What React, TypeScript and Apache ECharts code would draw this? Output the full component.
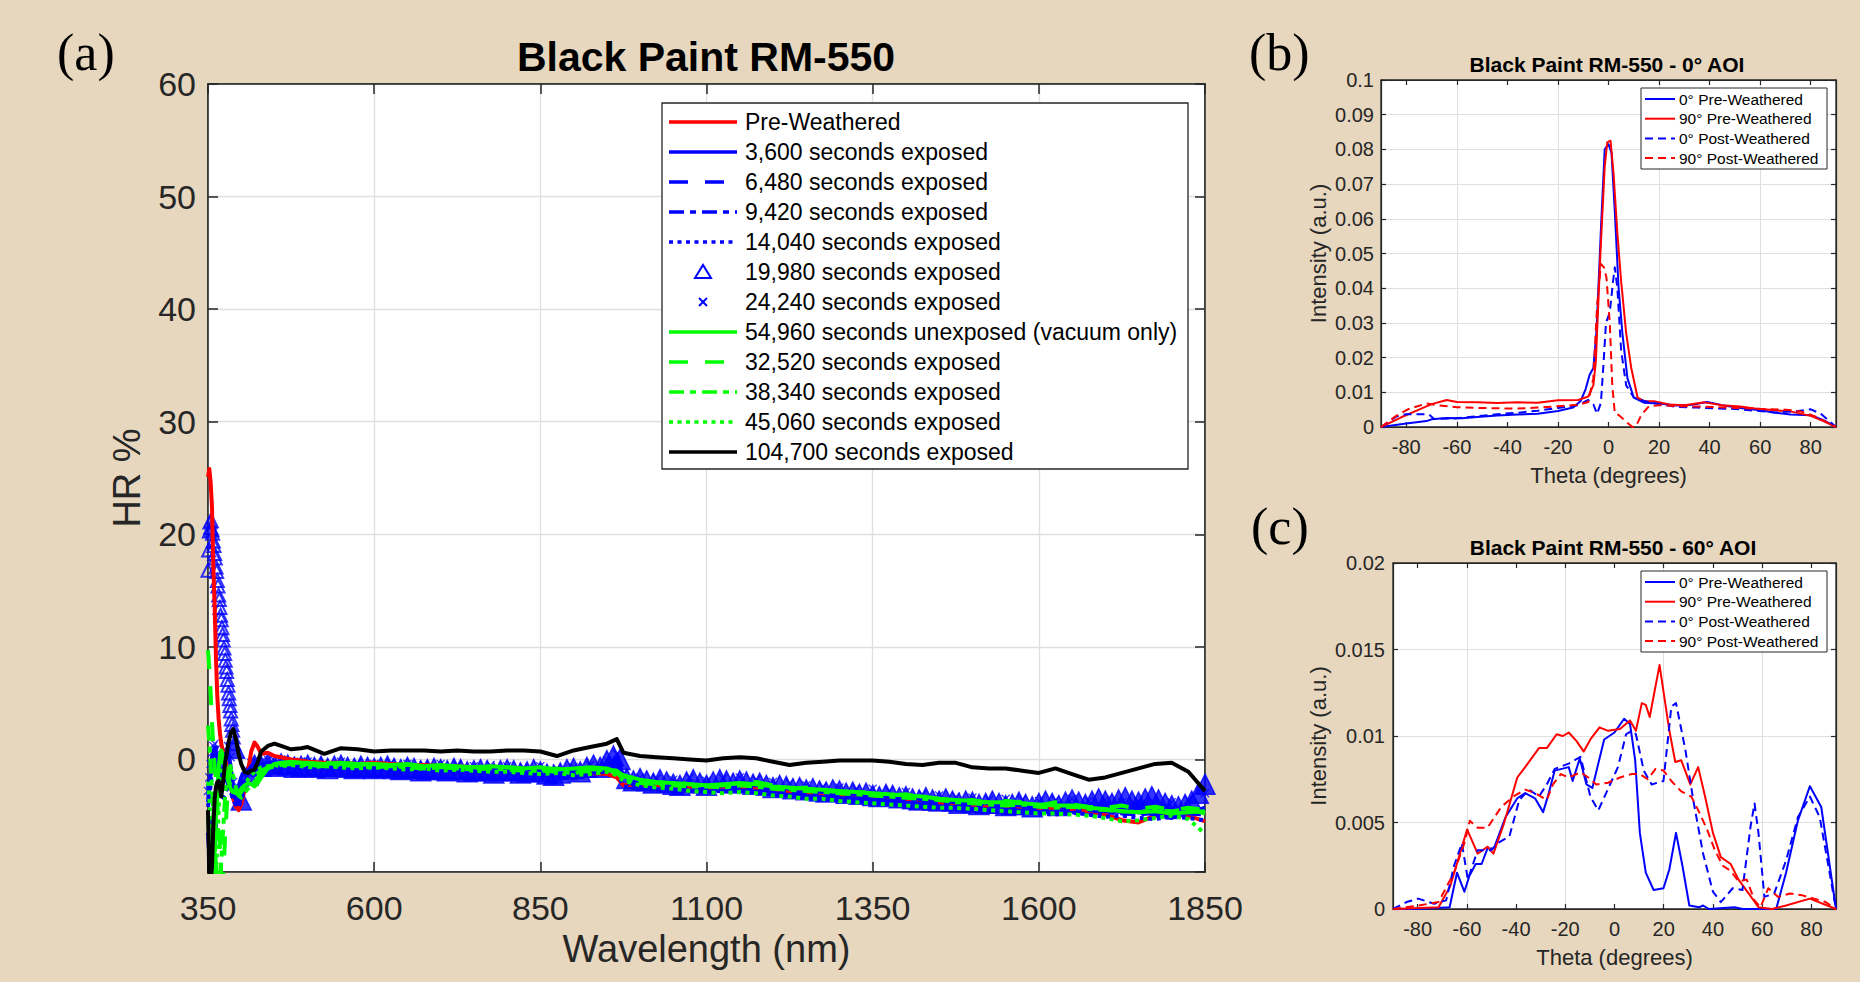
import { useEffect, useRef } from "react";
import * as echarts from "echarts";

// ---------- (a) hemispherical reflectance spectra ----------
// Wavelength sampling (nm) shared by the line spectra
const WAVELENGTH = [
  350, 352, 354, 356, 358, 360, 362, 364, 366, 368,
  370, 373, 376, 380, 384, 388, 392, 396, 400, 405,
  410, 415, 420, 425, 430, 440, 450, 460, 475, 490,
  500, 525, 550, 575, 600, 625, 650, 675, 700, 725,
  750, 775, 800, 825, 850, 875, 900, 925, 950, 965,
  975, 1000, 1025, 1050, 1075, 1100, 1125, 1150, 1175, 1200,
  1225, 1250, 1275, 1300, 1325, 1350, 1375, 1400, 1425, 1450,
  1475, 1500, 1525, 1550, 1575, 1600, 1625, 1650, 1675, 1700,
  1725, 1750, 1775, 1800, 1825, 1850,
];

const HR_PRE_WEATHERED = [
  25.1, 25.8, 24.6, 22.4, 17.1, 13.6, 9.0, 5.6, 3.6, 2.3,
  1.4, 0.6, -0.1, -1.1, -2.3, -3.5, -4.2, -4.5, -4.0, -2.7,
  -1.1, 0.7, 1.5, 1.1, 0.5, 0.6, 0.3, 0.2, 0.0, -0.1,
  -0.2, -0.3, -0.3, -0.4, -0.3, -0.4, -0.5, -0.5, -0.6, -0.6,
  -0.7, -0.7, -0.8, -0.9, -0.9, -1.0, -1.1, -1.2, -1.3, -1.6,
  -2.3, -2.2, -2.3, -2.3, -2.4, -2.5, -2.4, -2.4, -2.5, -2.6,
  -2.8, -2.9, -3.0, -3.1, -3.1, -3.2, -3.3, -3.5, -3.6, -3.8,
  -3.9, -4.0, -4.1, -4.1, -4.2, -4.3, -4.3, -4.4, -4.6, -4.9,
  -5.4, -5.6, -5.0, -4.8, -5.0, -5.5,
];

const HR_3600 = [
  -3.8, -2.6, -1.2, 0.2, 0.8, 1.0, 0.6, -0.4, -1.5, -2.4,
  -2.0, -0.8, 0.4, 0.9, -0.6, -2.6, -3.6, -3.9, -3.4, -2.2,
  -1.2, -0.6, -0.5, -0.8, -0.7, -0.4, -0.3, -0.4, -0.3, -0.5,
  -0.5, -0.6, -0.4, -0.5, -0.6, -0.6, -0.7, -0.6, -0.7, -0.8,
  -0.8, -0.7, -0.9, -0.9, -1.0, -1.2, -1.1, -0.8, -0.6, 0.2,
  -1.5, -1.9, -2.1, -2.0, -2.2, -2.4, -2.3, -2.1, -2.2, -2.4,
  -2.6, -2.6, -2.8, -2.9, -3.0, -3.0, -3.2, -3.4, -3.4, -3.6,
  -3.8, -3.9, -3.9, -4.0, -4.1, -4.0, -3.9, -4.1, -4.3, -4.2,
  -4.5, -4.7, -4.9, -5.2, -4.7, -4.3,
];

const HR_6480 = [
  -2.0, -4.5, -7.5, -10.5, -11, -9, -5.5, -2.5, -0.8, 0.3,
  0.6, -0.5, -1.5, -2.2, -3.0, -3.4, -3.2, -2.4, -1.6, -0.9,
  -0.3, -0.2, -0.4, -0.6, -0.5, -0.3, -0.4, -0.2, -0.4, -0.3,
  -0.4, -0.5, -0.5, -0.4, -0.5, -0.7, -0.6, -0.7, -0.8, -0.7,
  -0.9, -0.8, -0.8, -1.0, -0.9, -1.1, -1.0, -0.7, -0.4, -0.2,
  -1.8, -2.0, -2.2, -2.3, -2.1, -2.3, -2.2, -2.0, -2.3, -2.5,
  -2.5, -2.7, -2.9, -2.8, -3.1, -3.2, -3.3, -3.3, -3.6, -3.7,
  -3.6, -3.9, -4.0, -4.0, -3.9, -4.2, -4.3, -4.2, -4.4, -4.6,
  -4.4, -4.6, -4.8, -4.5, -4.7, -4.3,
];

const HR_9420 = [
  -6.5, -8.5, -10.5, -11, -10.5, -8, -5, -2.8, -1.2, -0.2,
  0.4, 0.2, -0.6, -1.6, -2.6, -3.6, -4.0, -3.7, -2.8, -1.7,
  -1.0, -0.7, -0.6, -0.7, -0.8, -0.6, -0.5, -0.6, -0.5, -0.6,
  -0.7, -0.6, -0.7, -0.8, -0.7, -0.8, -0.9, -0.8, -0.9, -1.0,
  -0.9, -1.1, -1.0, -1.1, -1.2, -1.3, -1.2, -1.0, -0.9, -0.8,
  -2.0, -2.3, -2.4, -2.3, -2.5, -2.6, -2.5, -2.4, -2.6, -2.7,
  -2.9, -3.0, -3.0, -3.2, -3.3, -3.3, -3.5, -3.6, -3.7, -3.9,
  -4.0, -4.0, -4.2, -4.3, -4.2, -4.4, -4.5, -4.6, -4.5, -4.7,
  -4.8, -4.9, -4.7, -4.6, -4.8, -4.9,
];

const HR_14040 = [
  -4.2, -3.4, -2.2, -1.0, 0.2, 1.0, 1.1, 0.4, -0.6, -1.8,
  -2.8, -3.4, -3.0, -2.2, -2.8, -3.6, -4.1, -4.2, -3.7, -2.5,
  -1.4, -0.9, -0.8, -1.0, -1.1, -0.8, -0.7, -0.8, -0.7, -0.8,
  -0.9, -0.8, -0.9, -1.0, -0.9, -1.0, -1.1, -1.0, -1.1, -1.2,
  -1.1, -1.2, -1.3, -1.2, -1.4, -1.5, -1.4, -1.2, -1.1, -1.0,
  -2.4, -2.6, -2.7, -2.8, -2.7, -2.9, -2.8, -2.7, -2.9, -3.1,
  -3.2, -3.3, -3.4, -3.5, -3.6, -3.7, -3.8, -3.9, -4.1, -4.3,
  -4.2, -4.4, -4.6, -4.5, -4.6, -4.8, -4.9, -4.7, -4.9, -5.1,
  -5.0, -5.2, -5.3, -5.1, -5.2, -5.4,
];

const HR_24240 = [
  -2.8, -1.6, -0.4, 0.6, 1.2, 1.4, 0.9, 0.0, -1.0, -1.8,
  -1.4, -0.2, 0.8, 1.2, 0.2, -2.0, -3.3, -3.8, -3.3, -2.1,
  -1.0, -0.3, -0.1, -0.3, -0.2, 0.0, -0.1, 0.0, -0.1, -0.2,
  -0.2, -0.3, -0.2, -0.3, -0.4, -0.3, -0.4, -0.5, -0.4, -0.5,
  -0.6, -0.5, -0.6, -0.7, -0.6, -0.8, -0.7, -0.5, -0.1, 0.5,
  -1.3, -1.6, -1.7, -1.8, -1.6, -1.9, -1.7, -1.6, -1.8, -2.0,
  -2.1, -2.3, -2.4, -2.5, -2.6, -2.6, -2.8, -2.9, -3.1, -3.2,
  -3.3, -3.4, -3.6, -3.5, -3.6, -3.7, -3.6, -3.5, -3.7, -3.6,
  -3.8, -3.7, -3.9, -3.8, -3.6, -3.0,
];

const HR_54960_VACUUM = [
  -5.0, -7.0, -9.5, -11, -10.5, -8.0, -5.0, -2.5, -0.8, 0.4,
  0.8, 0.2, -0.8, -1.8, -2.6, -2.9, -3.0, -2.9, -2.6, -2.3,
  -2.1, -2.2, -2.4, -2.1, -1.6, -0.8, -0.4, -0.3, -0.2, -0.3,
  -0.3, -0.4, -0.3, -0.4, -0.4, -0.5, -0.4, -0.6, -0.5, -0.6,
  -0.7, -0.6, -0.7, -0.8, -0.7, -0.9, -0.8, -0.7, -0.8, -1.1,
  -1.4, -1.8, -2.0, -2.1, -2.2, -2.3, -2.2, -2.1, -2.2, -2.4,
  -2.5, -2.6, -2.7, -2.8, -2.9, -3.0, -3.1, -3.2, -3.3, -3.5,
  -3.6, -3.7, -3.8, -3.8, -3.9, -4.0, -4.1, -4.1, -4.3, -4.4,
  -4.6, -4.7, -4.6, -4.8, -4.7, -4.6,
];

const HR_32520 = [
  9.7, 8.0, 5.8, 3.3, 1.2, -0.6, -1.8, -3.8, -6.0, -8.0,
  -10.5, -10.5, -6.5, -2.5, -0.8, -1.8, -2.8, -3.2, -2.9, -2.4,
  -2.0, -1.7, -1.5, -1.2, -1.0, -0.7, -0.5, -0.4, -0.3, -0.3,
  -0.4, -0.3, -0.4, -0.5, -0.4, -0.6, -0.5, -0.5, -0.7, -0.6,
  -0.7, -0.8, -0.7, -0.8, -0.9, -0.8, -1.0, -0.9, -0.8, -1.0,
  -1.5, -1.9, -2.1, -2.0, -2.2, -2.4, -2.3, -2.1, -2.0, -2.3,
  -2.6, -2.5, -2.8, -2.9, -2.8, -3.1, -3.2, -3.1, -3.4, -3.5,
  -3.7, -3.6, -3.9, -3.7, -3.8, -4.1, -3.8, -4.0, -4.2, -4.3,
  -4.1, -4.4, -4.2, -4.5, -4.3, -4.5,
];

const HR_38340 = [
  3.0, 1.5, -0.5, -2.5, -4.8, -7.2, -9.6, -11, -11, -10.5,
  -9.0, -6.0, -3.0, -1.2, -0.6, -1.5, -2.5, -3.2, -3.4, -3.0,
  -2.6, -2.3, -2.0, -1.6, -1.2, -0.8, -0.6, -0.5, -0.4, -0.5,
  -0.5, -0.6, -0.5, -0.6, -0.7, -0.6, -0.7, -0.8, -0.7, -0.8,
  -0.9, -0.8, -0.9, -1.0, -1.0, -1.1, -1.2, -1.0, -0.9, -1.2,
  -1.7, -2.1, -2.2, -2.3, -2.4, -2.4, -2.5, -2.3, -2.4, -2.6,
  -2.7, -2.8, -2.9, -3.0, -3.1, -3.2, -3.3, -3.4, -3.5, -3.6,
  -3.8, -3.9, -4.0, -4.1, -4.0, -4.2, -4.3, -4.2, -4.4, -4.5,
  -4.6, -4.7, -4.5, -4.6, -4.4, -4.8,
];

const HR_45060 = [
  -2.0, -3.5, -5.5, -8.0, -10.5, -11, -10, -7.5, -4.5, -2.0,
  -0.5, 0.3, -0.5, -1.5, -2.4, -3.0, -3.2, -3.0, -2.7, -2.3,
  -1.8, -1.4, -1.1, -0.9, -0.7, -0.6, -0.5, -0.6, -0.5, -0.6,
  -0.7, -0.6, -0.7, -0.8, -0.7, -0.8, -0.9, -0.8, -1.0, -0.9,
  -1.0, -1.1, -1.1, -1.2, -1.3, -1.2, -1.4, -1.3, -1.1, -1.4,
  -1.9, -2.3, -2.5, -2.6, -2.8, -2.9, -3.0, -2.9, -3.0, -3.2,
  -3.3, -3.5, -3.5, -3.7, -3.8, -3.9, -4.0, -4.1, -4.2, -4.3,
  -4.3, -4.4, -4.5, -4.6, -4.7, -4.8, -4.8, -4.9, -5.0, -5.2,
  -5.5, -5.4, -5.2, -5.0, -5.3, -6.6,
];

const HR_104700 = [
  -4.5, -10.5, -11, -9.5, -6.0, -3.5, -2.4, -2.0, -1.9, -2.6,
  -3.3, -1.8, -0.2, 1.2, 2.3, 2.7, 1.8, 0.5, -0.4, -1.1,
  -1.2, -1.0, -0.9, -0.2, 0.7, 1.2, 1.4, 1.2, 0.9, 1.0,
  1.1, 0.5, 1.0, 0.9, 0.7, 0.8, 0.8, 0.8, 0.7, 0.8,
  0.7, 0.7, 0.8, 0.8, 0.7, 0.3, 0.8, 1.1, 1.4, 1.8,
  0.6, 0.3, 0.2, 0.1, 0.0, -0.1, 0.1, 0.2, 0.1, -0.2,
  -0.5, -0.3, -0.2, -0.1, -0.1, -0.1, -0.2, -0.4, -0.5, -0.3,
  -0.3, -0.7, -0.8, -0.8, -1.0, -1.2, -0.8, -1.3, -1.8, -1.6,
  -1.2, -0.8, -0.4, -0.3, -1.1, -2.8,
];

// The 19,980 s run is sampled more finely (1 nm near the UV edge, 10 nm beyond)
const WAVELENGTH_19980 = [
  350, 351, 352, 353, 354, 355, 356, 357, 358, 359,
  360, 361, 362, 363, 364, 365, 366, 367, 368, 369,
  370, 371, 372, 373, 374, 375, 376, 377, 378, 379,
  380, 381, 382, 383, 384, 385, 386, 387, 388, 389,
  390, 400, 410, 420, 430, 440, 450, 460, 470, 480,
  490, 500, 510, 520, 530, 540, 550, 560, 570, 580,
  590, 600, 610, 620, 630, 640, 650, 660, 670, 680,
  690, 700, 710, 720, 730, 740, 750, 760, 770, 780,
  790, 800, 810, 820, 830, 840, 850, 860, 870, 880,
  890, 900, 910, 920, 930, 940, 950, 960, 970, 980,
  990, 1000, 1010, 1020, 1030, 1040, 1050, 1060, 1070, 1080,
  1090, 1100, 1110, 1120, 1130, 1140, 1150, 1160, 1170, 1180,
  1190, 1200, 1210, 1220, 1230, 1240, 1250, 1260, 1270, 1280,
  1290, 1300, 1310, 1320, 1330, 1340, 1350, 1360, 1370, 1380,
  1390, 1400, 1410, 1420, 1430, 1440, 1450, 1460, 1470, 1480,
  1490, 1500, 1510, 1520, 1530, 1540, 1550, 1560, 1570, 1580,
  1590, 1600, 1610, 1620, 1630, 1640, 1650, 1660, 1670, 1680,
  1690, 1700, 1710, 1720, 1730, 1740, 1750, 1760, 1770, 1780,
  1790, 1800, 1810, 1820, 1830, 1840, 1850,
];

const HR_19980 = [
  16.8, 18.6, 20.3, 21.1, 20.6, 21.2, 20.4, 20.1, 19.4, 19.0,
  18.3, 17.9, 17.1, 16.7, 15.9, 15.4, 14.6, 14.2, 13.5, 12.8,
  12.4, 11.7, 11.1, 10.6, 9.9, 9.4, 8.8, 8.2, 7.8, 7.1,
  6.6, 5.9, 5.4, 4.8, 4.3, 3.6, 3.1, 2.6, 2.0, 1.4,
  1.0, -3.6, -1.4, -0.5, -0.6, -0.4, -0.6, -0.4, -0.5, -0.7,
  -0.6, -0.5, -0.7, -0.6, -0.8, -0.6, -0.5, -0.7, -0.8, -0.6,
  -0.7, -0.8, -0.7, -0.6, -0.8, -0.9, -0.7, -0.8, -1.0, -0.9,
  -0.8, -0.9, -1.0, -0.8, -0.9, -1.1, -1.0, -0.9, -1.0, -1.2,
  -1.0, -0.9, -1.0, -1.2, -1.1, -0.9, -1.1, -1.3, -1.4, -1.2,
  -0.9, -0.8, -1.1, -0.7, -0.5, -0.7, -0.1, 0.3, 0.0, -1.7,
  -1.9, -1.7, -1.9, -2.1, -1.8, -2.0, -2.2, -2.3, -2.0, -1.8,
  -2.1, -2.3, -2.0, -1.8, -1.9, -2.1, -1.9, -2.0, -2.2, -2.1,
  -2.3, -2.5, -2.3, -2.4, -2.6, -2.5, -2.7, -2.6, -2.8, -2.9,
  -2.7, -2.8, -3.0, -2.9, -3.1, -3.0, -3.2, -3.3, -3.1, -3.2,
  -3.4, -3.3, -3.5, -3.6, -3.4, -3.6, -3.7, -3.5, -3.7, -3.9,
  -3.7, -3.8, -4.0, -3.9, -3.7, -3.9, -4.1, -4.0, -3.8, -4.0,
  -4.2, -3.9, -3.7, -3.9, -4.1, -3.8, -3.6, -3.8, -4.0, -3.7,
  -3.5, -3.7, -3.9, -3.6, -3.4, -3.7, -3.8, -3.5, -3.3, -3.6,
  -3.9, -4.1, -4.2, -4.0, -3.7, -3.0, -2.2,
];

// ---------- (b) BRDF scans, 0° angle of incidence ----------
const THETA_B_0_PRE = [-90, -80, -72, -70, -64, -58, -52, -44, -36, -28, -20, -14, -11, -9, -7.5, -6, -4.7, -3, -1.5, 0, 1.2, 2.5, 4, 5.5, 7.5, 10, 14, 20, 27, 33, 39, 45, 52, 60, 66, 72, 80, 85, 90];
const INT_B_0_PRE = [0, 0.001, 0.0017, 0.0022, 0.0026, 0.0025, 0.0029, 0.0033, 0.0036, 0.0038, 0.0046, 0.0056, 0.0075, 0.011, 0.015, 0.017, 0.028, 0.057, 0.08, 0.0815, 0.079, 0.062, 0.04, 0.027, 0.014, 0.0085, 0.007, 0.0068, 0.0062, 0.0064, 0.0072, 0.0063, 0.0055, 0.0048, 0.0041, 0.0036, 0.0034, 0.002, 0];

const THETA_B_90_PRE = [-90, -82, -75, -70, -64, -60, -52, -44, -36, -28, -20, -12, -8, -6, -5, -3.2, -1.5, -0.5, 0.8, 2, 3.5, 5, 7, 9, 11.5, 14, 18, 24, 30, 38, 45, 52, 58, 66, 72, 80, 85, 90];
const INT_B_90_PRE = [0, 0.0028, 0.005, 0.0066, 0.0078, 0.0072, 0.0071, 0.0069, 0.0071, 0.007, 0.0077, 0.0078, 0.0088, 0.012, 0.019, 0.05, 0.075, 0.082, 0.0825, 0.073, 0.056, 0.042, 0.027, 0.017, 0.0085, 0.0075, 0.0074, 0.0065, 0.0063, 0.0071, 0.0063, 0.0059, 0.0053, 0.0048, 0.0045, 0.0032, 0.0017, 0];

const THETA_B_0_POST = [-90, -84, -80, -74, -71, -69, -60, -52, -44, -36, -28, -20, -12, -8, -6, -4.5, -3, -2, -1, 0.5, 1.8, 2.5, 3.5, 5, 7, 10, 14, 20, 27, 35, 42, 50, 58, 66, 74, 80, 84, 90];
const INT_B_0_POST = [0, 0.003, 0.0037, 0.0037, 0.0036, 0.0023, 0.0025, 0.0031, 0.0037, 0.0041, 0.0047, 0.0055, 0.0063, 0.0078, 0.0065, 0.0038, 0.007, 0.018, 0.03, 0.033, 0.042, 0.046, 0.04, 0.022, 0.012, 0.0085, 0.0075, 0.0066, 0.0058, 0.0056, 0.0054, 0.0052, 0.0047, 0.0042, 0.0045, 0.0051, 0.0038, 0];

const THETA_B_90_POST = [-90, -84, -79, -72, -68, -60, -52, -44, -36, -28, -20, -12, -8, -6, -4.5, -3, -1.8, -0.8, 0.5, 1.5, 2.5, 4.5, 7, 9.5, 11, 13, 16, 20, 28, 36, 44, 52, 60, 70, 76, 82, 90];
const INT_B_90_POST = [0, 0.0032, 0.0052, 0.0068, 0.0063, 0.0057, 0.0055, 0.0054, 0.0053, 0.0056, 0.006, 0.0064, 0.0072, 0.014, 0.035, 0.047, 0.046, 0.043, 0.03, 0.012, 0.004, 0.0032, 0.0015, 0, 0.0004, 0.0035, 0.006, 0.0063, 0.006, 0.0059, 0.0057, 0.0055, 0.0052, 0.005, 0.0045, 0.003, 0];

// ---------- (c) BRDF scans, 60° angle of incidence ----------
const THETA_C_0_PRE = [-90, -80, -67, -64, -61, -59, -56.4, -54, -51.6, -49, -44.3, -39.5, -36.3, -32.3, -29, -26.7, -24.3, -18.6, -17, -14.1, -11.4, -9, -4.2, 0, 3.9, 6.3, 8.4, 10.3, 12.7, 15.9, 19.9, 22.3, 25, 27.6, 30.4, 34.4, 36, 38.4, 48.8, 52, 65.7, 69.7, 74.5, 79.4, 84, 90];
const INT_C_0_PRE = [0, 0, 0.0001, 0.0021, 0.001, 0.0019, 0.0026, 0.0026, 0.0035, 0.0035, 0.0053, 0.0064, 0.0067, 0.0064, 0.0056, 0.0067, 0.008, 0.0082, 0.0074, 0.0087, 0.0072, 0.007, 0.0098, 0.0102, 0.011, 0.0107, 0.0086, 0.0044, 0.0021, 0.0011, 0.0012, 0.0023, 0.0044, 0.0025, 0.0002, 0.0001, 0.0002, 0, 0.0001, 0, 0, 0.0021, 0.0051, 0.0071, 0.0059, 0];

const THETA_C_90_PRE = [-90, -71.5, -66.8, -62.8, -59.9, -55.6, -51.6, -49.2, -45, -39.5, -36.3, -30.7, -27.5, -23.5, -21, -18.6, -15.4, -12.5, -9.8, -6.1, -2.6, 2.2, 6.3, 8.7, 11.1, 12.7, 14.3, 18.3, 22.3, 24.7, 27.1, 30.8, 34, 36.8, 40, 43.2, 47.2, 50.4, 54.5, 58.5, 64, 69.7, 79.4, 90];
const INT_C_90_PRE = [0, 0.0001, 0.0013, 0.0032, 0.0046, 0.0032, 0.0036, 0.0032, 0.0049, 0.0076, 0.0082, 0.0093, 0.0093, 0.0101, 0.01, 0.0102, 0.0097, 0.0091, 0.0098, 0.0105, 0.0103, 0.0104, 0.0109, 0.0103, 0.0119, 0.0118, 0.0111, 0.0141, 0.0103, 0.0085, 0.0086, 0.0072, 0.0082, 0.0065, 0.0044, 0.003, 0.0026, 0.0017, 0.0009, 0.0001, 0, 0.0002, 0.0006, 0];

const THETA_C_0_POST = [-90, -84.5, -79.7, -73.3, -68.4, -65.2, -62, -59.6, -55.6, -50, -47.6, -42.7, -38.7, -34.7, -30.7, -27.5, -24.3, -18.6, -13.8, -9.8, -6.6, -3.4, 1.4, 4.7, 7, 8.7, 11.9, 15.1, 19.9, 23.1, 25, 28.8, 32, 36, 40, 43.2, 48, 52, 55.3, 56.9, 58.5, 60.9, 64.9, 69.7, 74.5, 79.4, 83.4, 90];
const INT_C_0_POST = [0, 0.0004, 0.0006, 0.0003, 0.0005, 0.0025, 0.0038, 0.0017, 0.0034, 0.0034, 0.0038, 0.0042, 0.0063, 0.0069, 0.0065, 0.0072, 0.0081, 0.0084, 0.0088, 0.0065, 0.0057, 0.0067, 0.0082, 0.0101, 0.0103, 0.0101, 0.008, 0.0072, 0.0074, 0.0117, 0.0119, 0.0092, 0.0063, 0.0032, 0.001, 0.0004, 0.0012, 0.0011, 0.0048, 0.0061, 0.0044, 0.0007, 0.0009, 0.0028, 0.0053, 0.0065, 0.0053, 0];

const THETA_C_90_POST = [-90, -79.7, -71.5, -65.2, -61, -58.8, -55.6, -51.6, -46, -41.1, -36.3, -32.3, -27.5, -25, -21.8, -18.6, -13.8, -10.6, -7.4, -2.6, 2.2, 7, 10.3, 13.5, 16.7, 19.9, 23.1, 27.1, 31.2, 34.4, 37.6, 40.8, 44, 47.2, 50.4, 53.7, 56.9, 59.3, 62.5, 66.5, 71.3, 76.1, 81, 85.8, 90];
const INT_C_90_POST = [0, 0.0002, 0.0004, 0.0021, 0.0038, 0.0051, 0.0047, 0.0047, 0.0059, 0.0065, 0.0069, 0.0067, 0.0063, 0.0072, 0.0078, 0.0076, 0.0079, 0.0076, 0.0072, 0.0073, 0.0076, 0.0078, 0.0078, 0.0075, 0.0081, 0.008, 0.0074, 0.0068, 0.0065, 0.0056, 0.0046, 0.0034, 0.0025, 0.0022, 0.0016, 0.0017, 0.0005, 0.0001, 0.0012, 0.0007, 0.0009, 0.0008, 0.0006, 0.0004, 0];

// Axis tick values
const WAVELENGTH_TICKS = { min: 350, max: 1850, step: 250 };
const HR_TICKS = { min: -10, max: 60, step: 10 };
const THETA_LABELS = [-80, -60, -40, -20, 0, 20, 40, 60, 80];

// ---------- styling ----------
const FONT = '"Liberation Sans", Arial, Helvetica, sans-serif';
const SERIF = '"Liberation Serif", "Times New Roman", Times, serif';
const INK = "#262626";
const GRIDLINE = "#dfdfdf";
const PAGE = "#e6d7be";
const BLUE = "#0000ff";
const RED = "#ff0000";
const GREEN = "#00ff00";
const BLACK = "#000000";

const DASH = [19, 17];
const DASH_DOT = [15, 6, 6, 6];
const DOT = [4, 4.5];
const SMALL_DASH = [8, 5];

type Spectrum = {
  name: string;
  wl: number[];
  hr: number[];
  color: string;
  dash?: number[];
  marker?: "triangle" | "cross";
};

const SPECTRA: Spectrum[] = [
  { name: "Pre-Weathered", wl: WAVELENGTH, hr: HR_PRE_WEATHERED, color: RED },
  { name: "3,600 seconds exposed", wl: WAVELENGTH, hr: HR_3600, color: BLUE },
  { name: "6,480 seconds exposed", wl: WAVELENGTH, hr: HR_6480, color: BLUE, dash: DASH },
  { name: "9,420 seconds exposed", wl: WAVELENGTH, hr: HR_9420, color: BLUE, dash: DASH_DOT },
  { name: "14,040 seconds exposed", wl: WAVELENGTH, hr: HR_14040, color: BLUE, dash: DOT },
  { name: "19,980 seconds exposed", wl: WAVELENGTH_19980, hr: HR_19980, color: BLUE, marker: "triangle" },
  { name: "24,240 seconds exposed", wl: WAVELENGTH, hr: HR_24240, color: BLUE, marker: "cross" },
  { name: "54,960 seconds unexposed (vacuum only)", wl: WAVELENGTH, hr: HR_54960_VACUUM, color: GREEN },
  { name: "32,520 seconds exposed", wl: WAVELENGTH, hr: HR_32520, color: GREEN, dash: DASH },
  { name: "38,340 seconds exposed", wl: WAVELENGTH, hr: HR_38340, color: GREEN, dash: DASH_DOT },
  { name: "45,060 seconds exposed", wl: WAVELENGTH, hr: HR_45060, color: GREEN, dash: DOT },
  { name: "104,700 seconds exposed", wl: WAVELENGTH, hr: HR_104700, color: BLACK },
];

type Profile = { name: string; theta: number[]; intensity: number[]; color: string; dashed: boolean };

const PROFILES_0_AOI: Profile[] = [
  { name: "0° Pre-Weathered", theta: THETA_B_0_PRE, intensity: INT_B_0_PRE, color: BLUE, dashed: false },
  { name: "90° Pre-Weathered", theta: THETA_B_90_PRE, intensity: INT_B_90_PRE, color: RED, dashed: false },
  { name: "0° Post-Weathered", theta: THETA_B_0_POST, intensity: INT_B_0_POST, color: BLUE, dashed: true },
  { name: "90° Post-Weathered", theta: THETA_B_90_POST, intensity: INT_B_90_POST, color: RED, dashed: true },
];

const PROFILES_60_AOI: Profile[] = [
  { name: "0° Pre-Weathered", theta: THETA_C_0_PRE, intensity: INT_C_0_PRE, color: BLUE, dashed: false },
  { name: "90° Pre-Weathered", theta: THETA_C_90_PRE, intensity: INT_C_90_PRE, color: RED, dashed: false },
  { name: "0° Post-Weathered", theta: THETA_C_0_POST, intensity: INT_C_0_POST, color: BLUE, dashed: true },
  { name: "90° Post-Weathered", theta: THETA_C_90_POST, intensity: INT_C_90_POST, color: RED, dashed: true },
];

const CROSS_PATH = "path://M0,1L1,0L5,4L9,0L10,1L6,5L10,9L9,10L5,6L1,10L0,9L4,5Z";

const pairs = (xs: number[], ys: number[]) => xs.map((x, i) => [x, ys[i]]);

// ---------- layout of the three plot boxes ----------
const BOX_A = { left: 208, top: 84, width: 997, height: 788 };
const BOX_B = { left: 1381, top: 80, width: 455, height: 347 };
const BOX_C = { left: 1393, top: 563, width: 443, height: 346 };

function text(x: number, y: number, str: string, size: number, opts: any = {}) {
  return {
    type: "text",
    x,
    y,
    z: 120,
    silent: true,
    style: {
      text: str,
      fontSize: size,
      fontFamily: opts.family ?? FONT,
      fontWeight: opts.weight ?? "normal",
      fill: opts.fill ?? "#000",
      align: opts.align ?? "left",
      textAlign: opts.align ?? "left",
      verticalAlign: "middle",
      textVerticalAlign: "middle",
    },
  };
}

function legendLine(x1: number, x2: number, y: number, color: string, width: number, dash?: number[]) {
  const style: any = { stroke: color, lineWidth: width, lineCap: "butt" };
  if (dash) style.lineDash = dash;
  return { type: "line", z: 110, silent: true, shape: { x1, y1: y, x2, y2: y }, style };
}

function mainLegend() {
  const box = { x: 662, y: 103, w: 526, h: 366 };
  const els: any[] = [
    {
      type: "rect",
      z: 100,
      silent: true,
      shape: { x: box.x, y: box.y, width: box.w, height: box.h },
      style: { fill: "#ffffff", stroke: INK, lineWidth: 1.3 },
    },
  ];
  SPECTRA.forEach((s, i) => {
    const y = 122 + i * 30;
    const cx = 703;
    if (s.marker === "triangle") {
      els.push({
        type: "polygon",
        z: 110,
        silent: true,
        shape: { points: [[695, y + 6], [711, y + 6], [703, y - 7]] },
        style: { fill: "none", stroke: s.color, lineWidth: 2 },
      });
    } else if (s.marker === "cross") {
      els.push({ type: "line", z: 110, silent: true, shape: { x1: cx - 4, y1: y - 4, x2: cx + 4, y2: y + 4 }, style: { stroke: s.color, lineWidth: 2 } });
      els.push({ type: "line", z: 110, silent: true, shape: { x1: cx - 4, y1: y + 4, x2: cx + 4, y2: y - 4 }, style: { stroke: s.color, lineWidth: 2 } });
    } else {
      els.push(legendLine(669, 737, y, s.color, 3.5, s.dash));
    }
    els.push(text(745, y, s.name, 23));
  });
  return els;
}

function profileLegend(top: number, profiles: Profile[]) {
  const els: any[] = [
    {
      type: "rect",
      z: 100,
      silent: true,
      shape: { x: 1641, y: top, width: 186, height: 81 },
      style: { fill: "#ffffff", stroke: INK, lineWidth: 1 },
    },
  ];
  profiles.forEach((p, i) => {
    const y = top + 11 + i * 19.7;
    els.push(legendLine(1645, 1675, y, p.color, 2, p.dashed ? SMALL_DASH : undefined));
    els.push(text(1679, y, p.name, 15.5));
  });
  return els;
}

function valueAxis(gridIndex: number, min: number, max: number, interval: number, extra: any = {}) {
  return {
    gridIndex,
    type: "value",
    min,
    max,
    interval,
    axisLine: { show: true, onZero: false, lineStyle: { color: INK, width: extra.lineWidth ?? 1.5 } },
    axisTick: { show: true, inside: true, length: extra.tickLength ?? 10, lineStyle: { color: INK, width: extra.lineWidth ?? 1.5 }, ...(extra.axisTick ?? {}) },
    axisLabel: { show: false },
    splitLine: { show: false },
    ...extra.rest,
  };
}

function buildOption() {
  const labelStyle = (size: number, margin: number, more: any = {}) => ({
    show: true,
    fontSize: size,
    color: INK,
    fontFamily: FONT,
    margin,
    ...more,
  });
  const nameStyle = (size: number) => ({ fontSize: size, color: INK, fontFamily: FONT });
  const small = (v: number) => String(parseFloat(Number(v).toFixed(4)));
  const plain = (v: number) => String(v);

  const thetaSplit = {
    show: true,
    showMinLine: true,
    showMaxLine: true,
    lineStyle: { color: ["rgba(0,0,0,0)", GRIDLINE], width: 1 },
  };

  const xAxis = [
    // (a) bottom + top
    valueAxis(0, WAVELENGTH_TICKS.min, WAVELENGTH_TICKS.max, WAVELENGTH_TICKS.step, {
      rest: {
        position: "bottom",
        axisLabel: labelStyle(34, 19, { formatter: plain }),
        splitLine: { show: true, lineStyle: { color: GRIDLINE, width: 1.3 } },
        name: "Wavelength (nm)",
        nameLocation: "middle",
        nameGap: 58,
        nameTextStyle: nameStyle(38),
      },
    }),
    valueAxis(0, WAVELENGTH_TICKS.min, WAVELENGTH_TICKS.max, WAVELENGTH_TICKS.step, { rest: { position: "top" } }),
    // (b) bottom + top
    valueAxis(1, -90, 90, 10, {
      lineWidth: 1.2,
      tickLength: 5,
      axisTick: { customValues: THETA_LABELS },
      rest: {
        position: "bottom",
        axisLabel: labelStyle(20, 10, { customValues: THETA_LABELS, formatter: plain }),
        splitLine: thetaSplit,
        name: "Theta (degrees)",
        nameLocation: "middle",
        nameGap: 37,
        nameTextStyle: nameStyle(22),
      },
    }),
    valueAxis(1, -90, 90, 10, { lineWidth: 1.2, tickLength: 5, axisTick: { customValues: THETA_LABELS }, rest: { position: "top" } }),
    // (c) bottom + top
    valueAxis(2, -90, 90, 10, {
      lineWidth: 1.2,
      tickLength: 5,
      axisTick: { customValues: THETA_LABELS },
      rest: {
        position: "bottom",
        axisLabel: labelStyle(20, 10, { customValues: THETA_LABELS, formatter: plain }),
        splitLine: thetaSplit,
        name: "Theta (degrees)",
        nameLocation: "middle",
        nameGap: 37,
        nameTextStyle: nameStyle(22),
      },
    }),
    valueAxis(2, -90, 90, 10, { lineWidth: 1.2, tickLength: 5, axisTick: { customValues: THETA_LABELS }, rest: { position: "top" } }),
  ];

  const yAxis = [
    valueAxis(0, HR_TICKS.min, HR_TICKS.max, HR_TICKS.step, {
      rest: {
        position: "left",
        axisLabel: labelStyle(34, 12, { formatter: (v: number) => (v === HR_TICKS.min ? "" : String(v)) }),
        splitLine: { show: true, lineStyle: { color: GRIDLINE, width: 1.3 } },
        name: "HR %",
        nameLocation: "middle",
        nameGap: 62,
        nameTextStyle: nameStyle(38),
      },
    }),
    valueAxis(0, HR_TICKS.min, HR_TICKS.max, HR_TICKS.step, { rest: { position: "right" } }),
    valueAxis(1, 0, 0.1, 0.01, {
      lineWidth: 1.2,
      tickLength: 5,
      rest: {
        position: "left",
        axisLabel: labelStyle(20, 7, { formatter: small }),
        splitLine: { show: true, lineStyle: { color: GRIDLINE, width: 1 } },
        name: "Intensity (a.u.)",
        nameLocation: "middle",
        nameGap: 52,
        nameTextStyle: nameStyle(22),
      },
    }),
    valueAxis(1, 0, 0.1, 0.01, { lineWidth: 1.2, tickLength: 5, rest: { position: "right" } }),
    valueAxis(2, 0, 0.02, 0.005, {
      lineWidth: 1.2,
      tickLength: 5,
      rest: {
        position: "left",
        axisLabel: labelStyle(20, 8, { formatter: small }),
        splitLine: { show: true, lineStyle: { color: GRIDLINE, width: 1 } },
        name: "Intensity (a.u.)",
        nameLocation: "middle",
        nameGap: 64,
        nameTextStyle: nameStyle(22),
      },
    }),
    valueAxis(2, 0, 0.02, 0.005, { lineWidth: 1.2, tickLength: 5, rest: { position: "right" } }),
  ];

  const series: any[] = [];

  SPECTRA.forEach((s) => {
    if (s.marker === "triangle") {
      // Near the UV edge the markers stand apart (hollow); further on they
      // sit so densely that they merge into a solid ribbon.
      series.push({
        type: "scatter",
        name: s.name,
        xAxisIndex: 0,
        yAxisIndex: 0,
        symbol: "triangle",
        silent: true,
        data: s.wl.map((w, i) => ({
          value: [w, s.hr[i]],
          symbolSize: w < 390 ? 13 : 20,
          itemStyle:
            w < 390
              ? { color: "rgba(0,0,0,0)", borderColor: s.color, borderWidth: 2 }
              : { color: s.color, borderColor: s.color, borderWidth: 1.5 },
        })),
      });
    } else if (s.marker === "cross") {
      series.push({
        type: "scatter",
        name: s.name,
        xAxisIndex: 0,
        yAxisIndex: 0,
        symbol: CROSS_PATH,
        symbolSize: 9,
        silent: true,
        itemStyle: { color: s.color },
        data: pairs(s.wl, s.hr),
      });
    } else {
      series.push({
        type: "line",
        name: s.name,
        xAxisIndex: 0,
        yAxisIndex: 0,
        symbol: "none",
        showSymbol: false,
        silent: true,
        lineStyle: { color: s.color, width: 4, type: s.dash ?? "solid", cap: "butt", join: "round" },
        data: pairs(s.wl, s.hr),
      });
    }
  });

  const addProfiles = (profiles: Profile[], axisIndex: number) => {
    profiles.forEach((p) => {
      series.push({
        type: "line",
        name: p.name,
        xAxisIndex: axisIndex,
        yAxisIndex: axisIndex,
        symbol: "none",
        showSymbol: false,
        silent: true,
        lineStyle: { color: p.color, width: 2, type: p.dashed ? SMALL_DASH : "solid", cap: "butt", join: "round" },
        data: pairs(p.theta, p.intensity),
      });
    });
  };
  addProfiles(PROFILES_0_AOI, 2);
  addProfiles(PROFILES_60_AOI, 4);

  const gridStyle = { show: true, backgroundColor: "#ffffff", borderColor: INK, borderWidth: 1.3, containLabel: false };

  const graphic = [
    text(57, 52, "(a)", 52, { family: SERIF }),
    text(1249, 52, "(b)", 52, { family: SERIF }),
    text(1251, 526, "(c)", 52, { family: SERIF }),
    text(706, 57, "Black Paint RM-550", 41, { weight: "bold", align: "center" }),
    text(1607, 64, "Black Paint RM-550 - 0° AOI", 21, { weight: "bold", align: "center" }),
    text(1613, 547, "Black Paint RM-550 - 60° AOI", 21, { weight: "bold", align: "center" }),
    ...mainLegend(),
    ...profileLegend(88, PROFILES_0_AOI),
    ...profileLegend(571, PROFILES_60_AOI),
  ];

  return {
    animation: false,
    backgroundColor: PAGE,
    textStyle: { fontFamily: FONT },
    grid: [
      { ...gridStyle, ...BOX_A },
      { ...gridStyle, ...BOX_B },
      { ...gridStyle, ...BOX_C },
    ],
    xAxis,
    yAxis,
    series,
    graphic,
  };
}

export default function App() {
  const ref = useRef<HTMLDivElement>(null);
  useEffect(() => {
    if (!ref.current) return;
    const chart = echarts.init(ref.current, undefined, { renderer: "svg" });
    chart.setOption(buildOption() as any);
    return () => chart.dispose();
  }, []);
  return (
    <div
      ref={ref}
      style={{ position: "absolute", left: 0, top: 0, width: 1860, height: 982 }}
    />
  );
}
